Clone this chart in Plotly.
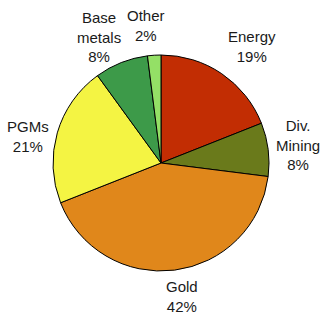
import plotly.graph_objects as go

labels = ["Energy", "Div.<br>Mining", "Gold", "PGMs", "Base<br>metals", "Other"]
values = [19, 8, 42, 21, 8, 2]
colors = ["#C22D03", "#6A7A1B", "#E0871B", "#F4F443", "#3D9A49", "#94E066"]

W, H = 321, 314
# label block centres in pixels (layout only)
label_pos = [(252, 47), (298, 145), (182, 296), (28, 136), (99, 37), (146, 26)]

fig = go.Figure(go.Pie(
    labels=labels,
    values=values,
    sort=False,
    direction="clockwise",
    rotation=0,
    marker=dict(colors=colors, line=dict(color="black", width=1)),
    textinfo="none",
    showlegend=False,
    hoverinfo="label+percent",
    domain=dict(x=[53 / W, 269 / W], y=[1 - 271 / H, 1 - 55 / H]),
))

total = sum(values)
for lab, val, (px, py) in zip(labels, values, label_pos):
    fig.add_annotation(
        x=px / W, y=1 - py / H, xref="paper", yref="paper",
        text=f"{lab}<br>{round(100 * val / total)}%",
        showarrow=False, xanchor="center", yanchor="middle",
        font=dict(family="Liberation Sans, Arial, sans-serif", size=15, color="#1a1a1a"),
    )

fig.update_layout(
    width=W, height=H,
    margin=dict(l=0, r=0, t=0, b=0),
    paper_bgcolor="white",
    plot_bgcolor="white",
)
fig.write_html(
    "out.html",
    config={"displayModeBar": False},
    post_script="document.body.style.margin='0';document.body.style.overflow='hidden';",
)
